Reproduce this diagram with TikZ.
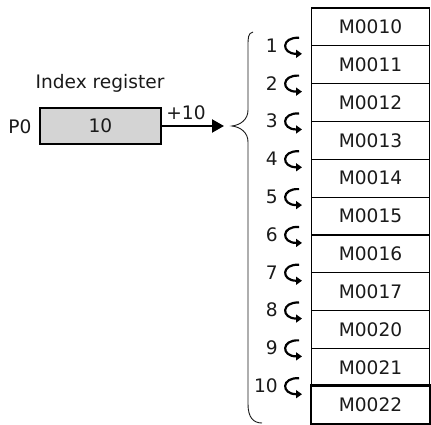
\documentclass[tikz,border=0pt]{standalone}
\usepackage{fontspec}
\setmainfont{DejaVu Sans}
\usetikzlibrary{arrows.meta,positioning}
\definecolor{regfill}{HTML}{D4D4D4}
\definecolor{inkgray}{HTML}{1A1A1A}

\begin{document}
\begin{tikzpicture}[x=1pt,y=-1pt,>=Latex,
  txt/.style={inner sep=0pt,text=inkgray,font=\fontsize{18.6}{20}\selectfont},
  cell/.style={txt,draw=black,line width=1.2pt,minimum width=117.5pt,minimum height=37.82pt},
  regbox/.style={txt,draw=black,line width=2pt,fill=regfill,minimum width=121pt,minimum height=36pt},
  curl/.style={line width=2.2pt,-{Triangle[length=6pt,width=8pt]}},
  push/.style={line width=2.2pt,-{Triangle[length=12pt,width=13pt]}}]
\useasboundingbox (0,0) rectangle (431,425);
% index register
\node[txt] (title) at (100,83) {Index register};
\node[regbox] (reg) at (100.5,126) {10};
\node[txt] (p0) at (20,127) {P0};
\coordinate (tip) at (224,126);
\draw[push] (reg.east) -- (tip);
\node[txt] (inc) at (186,113) {+10};
% brace
\draw[line width=0.9pt,inkgray] (253,32) .. controls (248,33) and (248,38) .. (248,46) -- (248,110)
  .. controls (248,120) and (240,125) .. (232,126)
  .. controls (240,127) and (248,132) .. (248,142) -- (248,404)
  .. controls (248,417) and (253,423) .. (262,423);
% memory cells
\foreach \lbl [count=\i from 0] in {M0010,M0011,M0012,M0013,M0014,M0015,M0016,M0017,M0020,M0021,M0022}
  \node[cell] (m\i) at (370.5,{8+37.82*(\i+0.5)}) {\lbl};
\draw[line width=2.6pt] (m10.north west) rectangle (m10.south east);
% offsets
\foreach \k in {1,...,10}{
  \pgfmathsetmacro\yk{8+37.82*\k}
  \node[txt,anchor=east] (n\k) at (278,\yk-0.5) {\k};
  \draw[curl] (299,\yk-8) .. controls (281,\yk-9) and (281,\yk+8) .. (302,\yk+8);
}
\end{tikzpicture}
\end{document}
